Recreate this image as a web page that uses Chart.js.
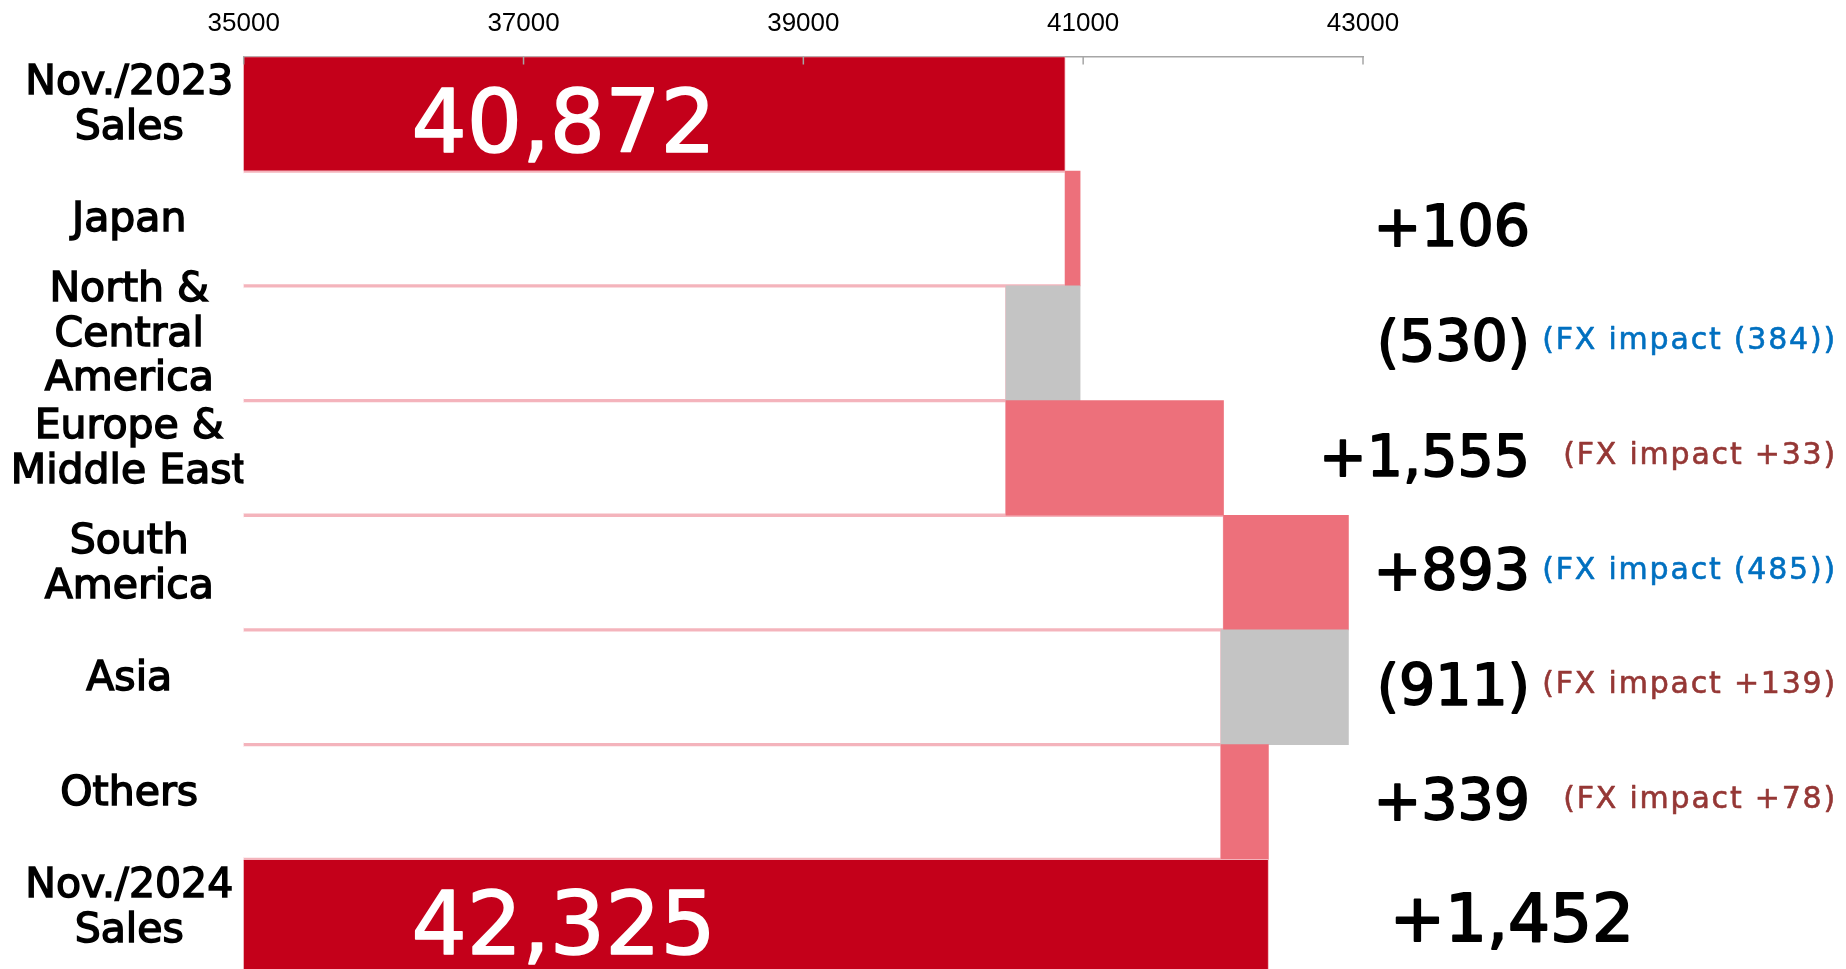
<!DOCTYPE html>
<html><head><meta charset="utf-8">
<script src="https://cdn.jsdelivr.net/npm/chart.js@4.4.1/dist/chart.umd.min.js"></script>
<style>html,body{margin:0;padding:0;background:#fff;overflow:hidden}
#wrap{position:absolute;left:0;top:0;width:1846px;height:974px}</style>
</head><body><div id="wrap"><canvas id="c"></canvas></div>
<script>
const categories = [["Nov./2023","Sales"],["Japan"],["North &","Central","America"],["Europe &","Middle East"],["South","America"],["Asia"],["Others"],["Nov./2024","Sales"]];
const startSales = 40872;
const endSales = 42325;
const regionChanges = [106, -530, 1555, 893, -911, 339];
const changeLabels = ["", "+106", "(530)", "+1,555", "+893", "(911)", "+339", "+1,452"];
const fxLabels = ["", "", "(FX impact (384))", "(FX impact +33)", "(FX impact (485))", "(FX impact +139)", "(FX impact +78)", ""];
const fxPositive = [false, false, false, true, false, true, true, false];
const axisTicks = [35000, 37000, 39000, 41000, 43000];

const TOTAL = '#C4001A', POS = '#ED707B', NEG = '#C4C4C4', EDGE = '#F4B4BC';
const FX_POS = '#953735', FX_NEG = '#0070C0';
const FONT = '"DejaVu Sans", Verdana, sans-serif';
const n = categories.length;
const totals = Array(n).fill(null);
totals[0] = startSales; totals[n-1] = endSales;
const bases = Array(n).fill(null), deltas = Array(n).fill(null), deltaColors = Array(n).fill(POS);
let run = startSales;
regionChanges.forEach((d, k) => {
  const i = k + 1, next = run + d;
  bases[i] = Math.min(run, next);
  deltas[i] = [run, next];
  deltaColors[i] = d >= 0 ? POS : NEG;
  run = next;
});

function drawText(ctx, s, x, yCenter, size, color, stroke, spacing) {
  ctx.font = size + 'px ' + FONT;
  ctx.letterSpacing = (spacing || 0) + 'px';
  const y = yCenter + size * 0.729 / 2;
  ctx.fillStyle = color;
  ctx.fillText(s, x, y);
  if (stroke) { ctx.strokeStyle = color; ctx.lineWidth = stroke; ctx.lineJoin = 'round'; ctx.strokeText(s, x, y); }
}

const labelPlugin = {
  id: 'labels',
  afterDraw(chart) {
    const {ctx, chartArea, scales: {x, y}} = chart;
    ctx.save();
    ctx.strokeStyle = '#A6A6A6'; ctx.lineWidth = 1.5;
    x.ticks.forEach(t => {
      const px = x.getPixelForValue(t.value);
      ctx.beginPath(); ctx.moveTo(px, chartArea.top); ctx.lineTo(px, chartArea.top + 8); ctx.stroke();
    });
    ctx.textBaseline = 'alphabetic';
    ctx.textAlign = 'center';
    [0, n-1].forEach(i => drawText(ctx, totals[i].toLocaleString('en-US'), chartArea.left + 320, y.getPixelForValue(i) + 6, 87, '#fff', 1.6, 0));
    ctx.textAlign = 'right';
    changeLabels.forEach((s, i) => {
      if (!s) return;
      if (i === n-1) drawText(ctx, s, chartArea.right + 271, y.getPixelForValue(i), 66, '#000', 2, 0);
      else drawText(ctx, s, chartArea.right + 167, y.getPixelForValue(i) - 3, 57, '#000', 1.8, 0);
    });
    fxLabels.forEach((s, i) => {
      if (!s) return;
      drawText(ctx, s, chartArea.right + 474, y.getPixelForValue(i) - 5, 30, fxPositive[i] ? FX_POS : FX_NEG, 0.6, 1.8);
    });
    ctx.restore();
  }
};

new Chart(document.getElementById('c'), {
  type: 'bar',
  data: {
    labels: categories,
    datasets: [
      {label: 'Total', data: totals, backgroundColor: TOTAL, borderColor: EDGE, borderWidth: 1, grouped: false},
      {label: 'Change', data: deltas, backgroundColor: deltaColors, borderWidth: 0, grouped: false},
      {label: 'Base', data: bases, backgroundColor: '#FFFFFF', borderColor: EDGE, borderWidth: {top: 2, bottom: 2, left: 1, right: 1}, grouped: false}
    ]
  },
  options: {
    indexAxis: 'y',
    responsive: true,
    maintainAspectRatio: false,
    animation: false,
    layout: {padding: {left: 0, right: 483, top: 0, bottom: 0}},
    datasets: {bar: {barPercentage: 1, categoryPercentage: 1}},
    plugins: {legend: {display: false}, tooltip: {enabled: false}},
    scales: {
      x: {
        position: 'top', min: 35000, max: 43000,
        afterBuildTicks: s => { s.ticks = axisTicks.map(v => ({value: v})); },
        afterFit: s => { s.height = 56.5; s.paddingLeft = 0; s.paddingRight = 0; },
        grid: {display: false, drawTicks: false},
        border: {display: true, color: '#A6A6A6', width: 1.5},
        ticks: {color: '#000', padding: 17, autoSkip: false, maxRotation: 0, font: {family: '"Liberation Sans", Arial', size: 26}, callback: v => String(v)}
      },
      y: {
        afterFit: s => { s.width = 243.7; s.paddingTop = 0; s.paddingBottom = 0; },
        grid: {display: false, drawTicks: false},
        border: {display: false},
        ticks: {color: '#000', autoSkip: false, crossAlign: 'center', padding: -4, labelOffset: -8,
          textStrokeColor: '#000', textStrokeWidth: 1.5,
          font: {family: FONT, size: 41, lineHeight: '44.6px'}}
      }
    }
  },
  plugins: [labelPlugin]
});
</script>
</body></html>
